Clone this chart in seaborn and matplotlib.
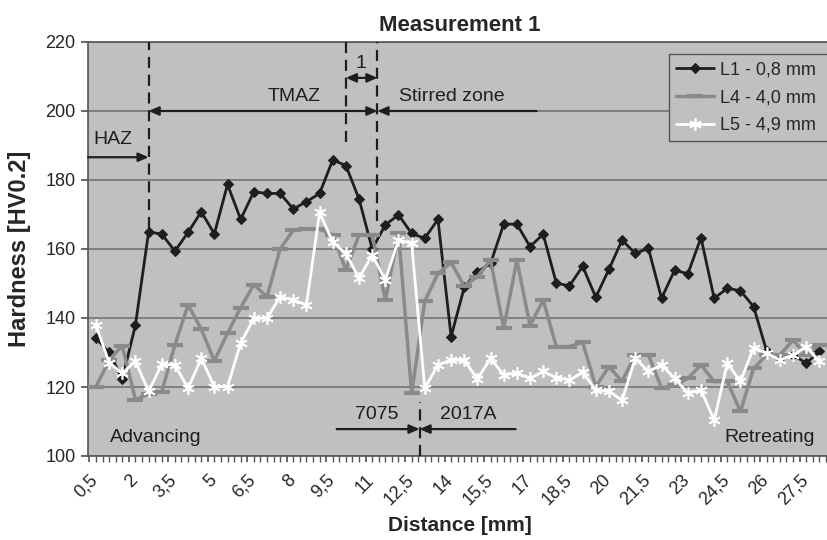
import numpy as np
import pandas as pd
import matplotlib
matplotlib.use("Agg")
import matplotlib.pyplot as plt
from matplotlib.ticker import FixedLocator, MultipleLocator
import seaborn as sns

# Hardness profiles, one point every 0.5 mm
distance = np.arange(0.75, 28.5, 0.5)

l1 = [134.1, 130.0, 122.3, 138.0, 165.0, 164.3, 159.4, 164.8, 170.8, 164.4,
      178.7, 168.6, 176.6, 176.1, 176.1, 171.6, 173.7, 176.1, 185.8, 184.2,
      174.5, 160.0, 167.0, 169.9, 164.5, 163.1, 168.6, 134.6, 148.9, 153.4,
      155.8, 167.2, 167.2, 160.7, 164.3, 150.1, 149.3, 155.0, 146.0, 154.1,
      162.6, 158.7, 160.2, 145.7, 153.9, 152.8, 163.3, 145.7, 148.6, 147.9,
      143.3, 130.3, 128.3, 129.3, 126.9, 130.3]

l4 = [120.1, 127.8, 132.0, 116.3, 118.0, 118.6, 132.2, 143.8, 136.8, 127.6,
      135.6, 143.0, 149.7, 146.1, 160.0, 165.5, 165.8, 165.8, 164.1, 153.9,
      164.1, 164.1, 145.2, 164.5, 118.2, 144.9, 152.9, 156.1, 149.2, 152.0,
      156.8, 137.0, 156.8, 137.8, 145.2, 131.7, 131.7, 133.0, 120.1, 125.9,
      121.6, 129.3, 129.3, 119.7, 120.5, 122.5, 126.4, 121.6, 121.6, 112.9,
      125.4, 129.3, 129.3, 133.6, 129.3, 132.2]

l5 = [138.0, 127.0, 124.0, 127.5, 118.7, 126.6, 126.4, 119.6, 128.3, 120.1,
      120.1, 132.7, 139.9, 139.9, 146.2, 145.2, 143.8, 170.6, 162.0, 158.7,
      151.5, 158.3, 151.0, 162.6, 161.6, 119.6, 126.4, 127.8, 127.8, 122.3,
      128.3, 123.5, 124.0, 122.5, 124.5, 122.7, 122.0, 124.3, 119.1, 118.7,
      116.2, 128.3, 124.5, 126.4, 122.5, 118.2, 119.1, 110.4, 126.9, 121.6,
      131.4, 129.8, 127.8, 129.3, 131.7, 127.4]

series_labels = ["L1 - 0,8 mm", "L4 - 4,0 mm", "L5 - 4,9 mm"]

x_ticks = np.arange(0.5, 28.0, 1.5)
x_ticklabels = [("%g" % t).replace(".", ",") for t in x_ticks]
y_ticks = [100, 120, 140, 160, 180, 200, 220]

# zone boundaries (mm)
haz_edge = 2.75
tmaz_in = 10.25
stir_edge = 11.45
joint_line = 13.05

sns.set_theme(style="ticks")
plt.rcParams["font.family"] = ["Liberation Sans", "DejaVu Sans"]

bg = "#c0c0c0"
fig = plt.figure(figsize=(8.28, 5.4), dpi=100)
ax = fig.add_axes([88 / 828, 1 - 456 / 540, (832 - 88) / 828, (456 - 42) / 540])
ax.set_facecolor(bg)

ax.grid(axis="y", color="#7a7a7a", lw=1.3)
ax.set_axisbelow(True)

sns.lineplot(x=distance, y=l1, ax=ax, color="#1e1e1e", lw=2.0, marker="D",
             markersize=5, markeredgecolor="#1e1e1e", label=series_labels[0], zorder=3)
sns.lineplot(x=distance, y=l4, ax=ax, color="#8a8a8a", lw=2.5, marker="_",
             markersize=11, markeredgewidth=3, markeredgecolor="#8a8a8a",
             label=series_labels[1], zorder=4)
sns.lineplot(x=distance, y=l5, ax=ax, color="white", lw=2.0, marker=(6, 2, 0),
             markersize=9, markeredgewidth=1.2, markeredgecolor="white",
             label=series_labels[2], zorder=5)

ax.set_xlim(0.446, 28.73)
ax.set_ylim(100, 220)
ax.xaxis.set_major_locator(FixedLocator(x_ticks))
ax.xaxis.set_minor_locator(MultipleLocator(0.25))
ax.set_xticklabels(x_ticklabels, rotation=45, ha="right", va="top",
                   rotation_mode="anchor", fontsize=13)
ax.set_yticks(y_ticks)
ax.tick_params(axis="y", labelsize=13, length=5, color="#555555", pad=4)
ax.tick_params(axis="x", which="both", length=4, color="#555555", pad=7)

for s in ["left", "bottom", "top"]:
    ax.spines[s].set_color("#555555")
    ax.spines[s].set_linewidth(1.2)
ax.spines["right"].set_visible(False)

ax.set_title("Measurement 1", fontsize=16, fontweight="bold", pad=8)
ax.set_ylabel("Hardness [HV0.2]", fontsize=17, fontweight="bold", labelpad=10)
ax.set_xlabel("Distance [mm]", fontsize=15, fontweight="bold", labelpad=6)

# zone boundaries
dash = dict(color="#1e1e1e", lw=1.6, linestyles=(0, (5, 3)), zorder=6)
ax.vlines(haz_edge, 166, 220, **dash)
ax.vlines(tmaz_in, 191, 220, **dash)
ax.vlines(stir_edge, 168, 220, **dash)
ax.vlines(joint_line, 100, 115.7, **dash)

arrow = dict(color="#1e1e1e", lw=1.6, shrinkA=0, shrinkB=0)
def arr(x0, x1, y, style):
    ax.annotate("", xy=(x1, y), xytext=(x0, y),
                arrowprops=dict(arrowstyle=style + ",head_length=0.5,head_width=0.22", **arrow),
                zorder=7)

arr(0.45, haz_edge, 186.6, "-|>")
arr(haz_edge, stir_edge, 200, "<|-|>")
arr(17.5, stir_edge, 200, "-|>")
arr(tmaz_in, stir_edge, 209.6, "<|-|>")
arr(9.9, joint_line, 107.8, "-|>")
arr(16.7, joint_line, 107.8, "-|>")

tk = dict(fontsize=14, color="#1e1e1e", zorder=8)
ax.text(0.64, 191.8, "HAZ", ha="left", va="center", **tk)
ax.text(8.3, 204.3, "TMAZ", ha="center", va="center", **tk)
ax.text(12.27, 204.3, "Stirred zone", ha="left", va="center", **tk)
ax.text(10.83, 213.9, "1", ha="center", va="center", **tk)
ax.text(11.43, 112.0, "7075", ha="center", va="center", **tk)
ax.text(14.9, 112.0, "2017A", ha="center", va="center", **tk)
ax.text(1.28, 105.4, "Advancing", ha="left", va="center", **tk)
ax.text(28.09, 105.4, "Retreating", ha="right", va="center", **tk)

# legend frame runs past the right edge, as in the cropped original
ax.legend(loc="upper left", mode="expand",
          bbox_to_anchor=(669 / 828, 1 - 146 / 540, 180 / 828, 92 / 540),
          bbox_transform=fig.transFigure, fontsize=13, frameon=True,
          fancybox=False, facecolor=bg, edgecolor="#555555", framealpha=1,
          handlelength=2.1, handletextpad=0.35, labelspacing=0.6,
          borderpad=0.4, borderaxespad=0)

fig.savefig("out.png", dpi=100)
